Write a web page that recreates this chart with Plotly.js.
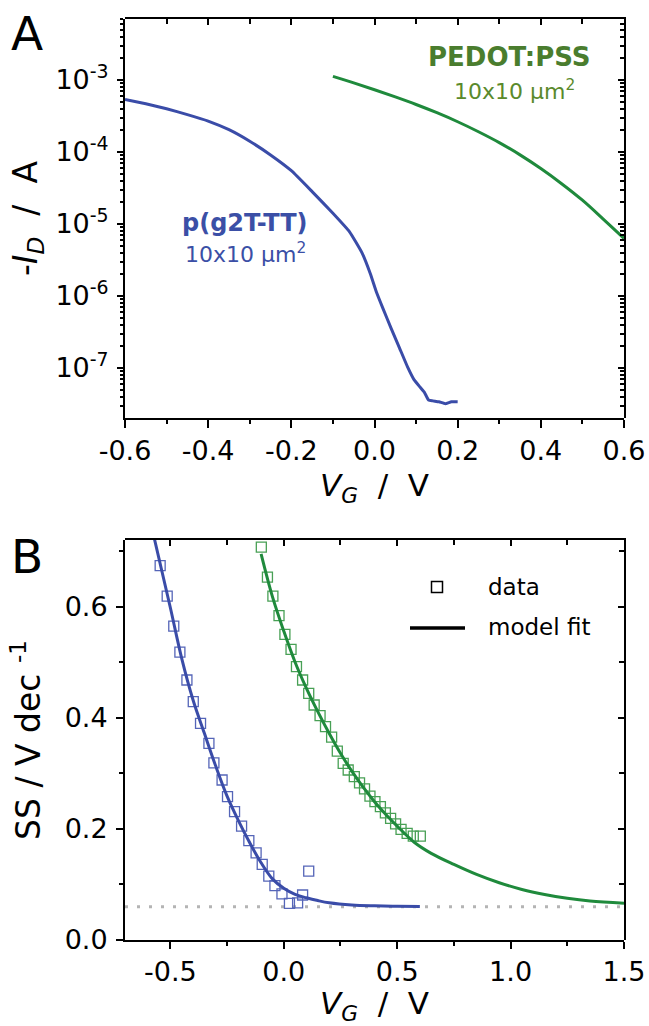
<!DOCTYPE html>
<html><head><meta charset="utf-8">
<script src="https://cdn.plot.ly/plotly-3.0.1.min.js"></script>
<style>html,body{margin:0;padding:0;background:#fff;}#chart{width:649px;height:1026px;}</style>
</head><body><div id="chart"></div>
<script>
// ---------- Panel A: transfer curves (-I_D vs V_G) ----------
const vgA_p2T = [-0.6, -0.55, -0.5, -0.45, -0.4, -0.35, -0.3, -0.25, -0.2, -0.15, -0.1, -0.06, -0.03, -0.01, 0.005, 0.02, 0.04, 0.06, 0.08, 0.095, 0.11, 0.12, 0.13, 0.14, 0.155, 0.17, 0.185, 0.2];
const idA_p2T = [5.37e-4, 4.68e-4, 3.98e-4, 3.31e-4, 2.69e-4, 2.04e-4, 1.41e-4, 9.1e-5, 5.5e-5, 2.82e-5, 1.41e-5, 7.8e-6, 3.98e-6, 2.04e-6, 1.12e-6, 6.8e-7, 3.55e-7, 1.91e-7, 1.02e-7, 6.9e-8, 5.4e-8, 4.6e-8, 3.6e-8, 3.5e-8, 3.4e-8, 3.2e-8, 3.4e-8, 3.4e-8];
const vgA_pedot = [-0.1, -0.05, 0.0, 0.05, 0.1, 0.15, 0.2, 0.25, 0.3, 0.35, 0.4, 0.45, 0.5, 0.55, 0.6];
const idA_pedot = [1.122e-3, 9.12e-4, 7.33e-4, 5.82e-4, 4.57e-4, 3.51e-4, 2.63e-4, 1.91e-4, 1.35e-4, 9.12e-5, 5.89e-5, 3.63e-5, 2.14e-5, 1.17e-5, 6.31e-6];

const xTicksA = [-0.6, -0.4, -0.2, 0, 0.2, 0.4, 0.6];
const xTickTextA = ['-0.6', '-0.4', '-0.2', '0.0', '0.2', '0.4', '0.6'];
const yTicksA = [1e-7, 1e-6, 1e-5, 1e-4, 1e-3];
const yTickTextA = ['10<sup>-7</sup>', '10<sup>-6</sup>', '10<sup>-5</sup>', '10<sup>-4</sup>', '10<sup>-3</sup>'];
const yMinorA = [2e-8,3e-8,4e-8,5e-8,6e-8,7e-8,8e-8,9e-8,2e-7,3e-7,4e-7,5e-7,6e-7,7e-7,8e-7,9e-7,2e-6,3e-6,4e-6,5e-6,6e-6,7e-6,8e-6,9e-6,2e-5,3e-5,4e-5,5e-5,6e-5,7e-5,8e-5,9e-5,2e-4,3e-4,4e-4,5e-4,6e-4,7e-4,8e-4,9e-4,2e-3,3e-3,4e-3,5e-3,6e-3,7e-3];

// ---------- Panel B: subthreshold swing ----------
const vgB_p2T_data = [-0.545, -0.514, -0.485, -0.458, -0.427, -0.399, -0.367, -0.330, -0.308, -0.272, -0.248, -0.217, -0.186, -0.154, -0.122, -0.095, -0.066, -0.039, -0.008, 0.025, 0.061, 0.083, 0.110];
const ssB_p2T_data = [0.674, 0.619, 0.565, 0.518, 0.468, 0.429, 0.390, 0.354, 0.319, 0.288, 0.258, 0.231, 0.205, 0.179, 0.157, 0.136, 0.115, 0.098, 0.083, 0.066, 0.067, 0.081, 0.124];
const vgB_p2T_fit = [-0.572, -0.5, -0.45, -0.4, -0.35, -0.3, -0.25, -0.2, -0.15, -0.1, -0.05, 0.0, 0.05, 0.1, 0.15, 0.2, 0.3, 0.4, 0.5, 0.6];
const ssB_p2T_fit = [0.725, 0.598, 0.507, 0.432, 0.372, 0.313, 0.259, 0.215, 0.175, 0.139, 0.110, 0.093, 0.082, 0.076, 0.071, 0.067, 0.063, 0.0615, 0.0608, 0.0603];

const vgB_pedot_data = [-0.099, -0.072, -0.048, -0.021, 0.005, 0.032, 0.056, 0.083, 0.110, 0.134, 0.160, 0.184, 0.211, 0.236, 0.262, 0.284, 0.311, 0.334, 0.356, 0.380, 0.402, 0.426, 0.448, 0.471, 0.493, 0.517, 0.544, 0.571, 0.602];
const ssB_pedot_data = [0.707, 0.653, 0.619, 0.584, 0.550, 0.523, 0.492, 0.468, 0.444, 0.423, 0.404, 0.384, 0.365, 0.340, 0.318, 0.306, 0.294, 0.283, 0.272, 0.259, 0.249, 0.240, 0.229, 0.219, 0.209, 0.199, 0.192, 0.187, 0.187];
const vgB_pedot_fit = [-0.1, -0.05, 0.0, 0.05, 0.1, 0.15, 0.2, 0.25, 0.3, 0.35, 0.4, 0.45, 0.5, 0.575, 0.65, 0.75, 0.85, 0.95, 1.05, 1.15, 1.25, 1.35, 1.5];
const ssB_pedot_fit = [0.695, 0.618, 0.556, 0.500, 0.453, 0.411, 0.372, 0.336, 0.304, 0.275, 0.249, 0.226, 0.205, 0.176, 0.156, 0.136, 0.118, 0.103, 0.091, 0.082, 0.075, 0.070, 0.066];
const ssLimit = 0.06;

const xTicksB = [-0.5, 0, 0.5, 1.0, 1.5];
const xTickTextB = ['-0.5', '0.0', '0.5', '1.0', '1.5'];
const yTicksB = [0, 0.2, 0.4, 0.6];
const yTickTextB = ['0.0', '0.2', '0.4', '0.6'];

// ---------- styling ----------
const F = 'DejaVu Sans';
const BLUE = '#3a4ca8', GREEN = '#1f8a3c';
const BLUE_MK = '#5565b8', GREEN_MK = '#48a055';
const L = 125, R = 624, T = 19, BOT = 940, W = R - L, H = BOT - T;
const px = v => (v - L) / W;
const py = v => (BOT - v) / H;
const domA = [py(418), 1], domB = [0, py(540)];
const rangeAx = [-0.6, 0.6], rangeAy = [-7.694, -2.153], rangeBx = [-0.7, 1.5], rangeBy = [0, 0.72];

// blue series on the bottom/left axes, green series on the top/right (inward-tick) axes of the same frame
const traces = [
  {x: vgA_p2T, y: idA_p2T, xaxis: 'x', yaxis: 'y', mode: 'lines', line: {color: BLUE, width: 3, shape: 'spline', smoothing: 0.4}, showlegend: false},
  {x: vgA_pedot, y: idA_pedot, xaxis: 'x3', yaxis: 'y3', mode: 'lines', line: {color: GREEN, width: 3, shape: 'spline'}, showlegend: false},
  {x: vgB_p2T_data, y: ssB_p2T_data, xaxis: 'x2', yaxis: 'y2', mode: 'markers', marker: {symbol: 'square-open', size: 10, color: BLUE_MK, line: {width: 1.3, color: BLUE_MK}}, showlegend: false, cliponaxis: false},
  {x: vgB_p2T_fit, y: ssB_p2T_fit, xaxis: 'x2', yaxis: 'y2', mode: 'lines', line: {color: BLUE, width: 3, shape: 'spline'}, showlegend: false},
  {x: vgB_pedot_data, y: ssB_pedot_data, xaxis: 'x4', yaxis: 'y4', mode: 'markers', marker: {symbol: 'square-open', size: 10, color: GREEN_MK, line: {width: 1.3, color: GREEN_MK}}, showlegend: false, cliponaxis: false},
  {x: vgB_pedot_fit, y: ssB_pedot_fit, xaxis: 'x4', yaxis: 'y4', mode: 'lines', line: {color: GREEN, width: 3, shape: 'spline'}, showlegend: false}
];

const tickFont = {family: F, size: 27, color: '#000'};
const titleFont = {family: F, size: 33, color: '#000'};
const xTitleFont = {family: F, size: 31, color: '#000'};
const base = {showline: true, linecolor: '#000', linewidth: 2, ticks: 'outside', tickcolor: '#000', tickwidth: 2, showgrid: false, zeroline: false, tickfont: tickFont};
const mirrorBase = {showline: true, linecolor: '#000', linewidth: 2, ticks: 'inside', tickcolor: '#000', tickwidth: 2, showgrid: false, zeroline: false, showticklabels: false};
const minorOut = (o) => Object.assign({ticks: 'outside', ticklen: 4, tickwidth: 2, tickcolor: '#000'}, o);
const minorIn = (o) => Object.assign({ticks: 'inside', ticklen: 4, tickwidth: 2, tickcolor: '#000'}, o);

const layout = {
  width: 649, height: 1026,
  margin: {l: L, r: 649 - R, t: T, b: 1026 - BOT, pad: 0},
  paper_bgcolor: '#fff', plot_bgcolor: 'rgba(0,0,0,0)',
  showlegend: false,
  xaxis: Object.assign({}, base, {domain: [0, 1], anchor: 'y', range: rangeAx,
    tickmode: 'array', tickvals: xTicksA, ticktext: xTickTextA, ticklen: 8,
    minor: minorOut({tickmode: 'linear', tick0: -0.6, dtick: 0.1}),
    title: {text: '<i>V</i><sub><i>G</i></sub>\u00A0\u00A0/\u00A0\u00A0V', font: xTitleFont, standoff: 9}}),
  yaxis: Object.assign({}, base, {domain: domA, anchor: 'x', type: 'log', range: rangeAy,
    tickmode: 'array', tickvals: yTicksA, ticktext: yTickTextA, ticklen: 6, ticklabelstandoff: 3,
    minor: minorOut({tickmode: 'array', tickvals: yMinorA, ticklen: 3, tickwidth: 1.5}),
    title: {text: '-<i>I</i><sub><i>D</i></sub>\u00A0\u00A0/\u00A0\u00A0A', font: titleFont, standoff: 8}}),
  xaxis3: Object.assign({}, mirrorBase, {domain: [0, 1], anchor: 'y3', side: 'top', range: rangeAx,
    tickmode: 'linear', tick0: -0.6, dtick: 0.2, ticklen: 6,
    minor: minorIn({tickmode: 'linear', tick0: -0.6, dtick: 0.1, ticklen: 5})}),
  yaxis3: Object.assign({}, mirrorBase, {domain: domA, anchor: 'x3', side: 'right', type: 'log', range: rangeAy,
    tickmode: 'array', tickvals: yTicksA, ticklen: 6,
    minor: minorIn({tickmode: 'array', tickvals: yMinorA, ticklen: 4, tickwidth: 1.5})}),
  xaxis2: Object.assign({}, base, {domain: [0, 1], anchor: 'y2', range: rangeBx,
    tickmode: 'array', tickvals: xTicksB, ticktext: xTickTextB, ticklen: 7,
    minor: minorOut({tickmode: 'linear', tick0: 0, dtick: 0.25}),
    title: {text: '<i>V</i><sub><i>G</i></sub>\u00A0\u00A0/\u00A0\u00A0V', font: xTitleFont, standoff: 17}}),
  yaxis2: Object.assign({}, base, {domain: domB, anchor: 'x2', range: rangeBy,
    tickmode: 'array', tickvals: yTicksB, ticktext: yTickTextB, ticklen: 7, ticklabelstandoff: 3,
    minor: minorOut({tickmode: 'linear', tick0: 0, dtick: 0.1}),
    title: {text: 'SS / V dec <sup>-1</sup>', font: titleFont, standoff: 14}}),
  xaxis4: Object.assign({}, mirrorBase, {domain: [0, 1], anchor: 'y4', side: 'top', range: rangeBx,
    tickmode: 'linear', tick0: 0, dtick: 0.5, ticklen: 6,
    minor: minorIn({tickmode: 'linear', tick0: 0, dtick: 0.25, ticklen: 5})}),
  yaxis4: Object.assign({}, mirrorBase, {domain: domB, anchor: 'x4', side: 'right', range: rangeBy,
    tickmode: 'linear', tick0: 0, dtick: 0.2, ticklen: 6,
    minor: minorIn({tickmode: 'linear', tick0: 0, dtick: 0.1, ticklen: 5})}),
  shapes: [
    {type: 'line', xref: 'x2 domain', yref: 'y2', x0: 0, x1: 1, y0: ssLimit, y1: ssLimit, layer: 'below',
      line: {color: '#b4b4b4', width: 3, dash: '3px,9px'}},
    // legend glyphs (panel B)
    {type: 'rect', xref: 'paper', yref: 'paper', x0: px(431.5), x1: px(442.5), y0: py(592.5), y1: py(581.5), line: {color: '#000', width: 1.5}},
    {type: 'line', xref: 'paper', yref: 'paper', x0: px(410), x1: px(465), y0: py(628), y1: py(628), line: {color: '#000', width: 3.5}}
  ],
  annotations: [
    {text: 'A', xref: 'paper', yref: 'paper', x: px(27), y: py(33), showarrow: false, xanchor: 'center', yanchor: 'middle', font: {family: F, size: 47, color: '#000'}},
    {text: 'B', xref: 'paper', yref: 'paper', x: px(27), y: py(556), showarrow: false, xanchor: 'center', yanchor: 'middle', font: {family: F, size: 47, color: '#000'}},
    {text: '<b>PEDOT:PSS</b>', xref: 'paper', yref: 'paper', x: px(509), y: py(57), showarrow: false, xanchor: 'center', yanchor: 'middle', font: {family: F, size: 26, color: '#4a7d2e'}},
    {text: '10x10 µm<sup>2</sup>', xref: 'paper', yref: 'paper', x: px(514), y: py(90), showarrow: false, xanchor: 'center', yanchor: 'middle', font: {family: F, size: 22, color: '#5a8a2c'}},
    {text: '<b>p(g2T-TT)</b>', xref: 'paper', yref: 'paper', x: px(245), y: py(223), showarrow: false, xanchor: 'center', yanchor: 'middle', font: {family: F, size: 24, color: '#3b4fa6'}},
    {text: '10x10 µm<sup>2</sup>', xref: 'paper', yref: 'paper', x: px(245), y: py(253), showarrow: false, xanchor: 'center', yanchor: 'middle', font: {family: F, size: 22, color: '#3b4fa6'}},
    {text: 'data', xref: 'paper', yref: 'paper', x: px(486), y: py(587), showarrow: false, xanchor: 'left', yanchor: 'middle', font: {family: F, size: 23, color: '#000'}},
    {text: 'model fit', xref: 'paper', yref: 'paper', x: px(486), y: py(627), showarrow: false, xanchor: 'left', yanchor: 'middle', font: {family: F, size: 23, color: '#000'}}
  ]
};

Plotly.newPlot('chart', traces, layout, {displayModeBar: false});
</script></body></html>
